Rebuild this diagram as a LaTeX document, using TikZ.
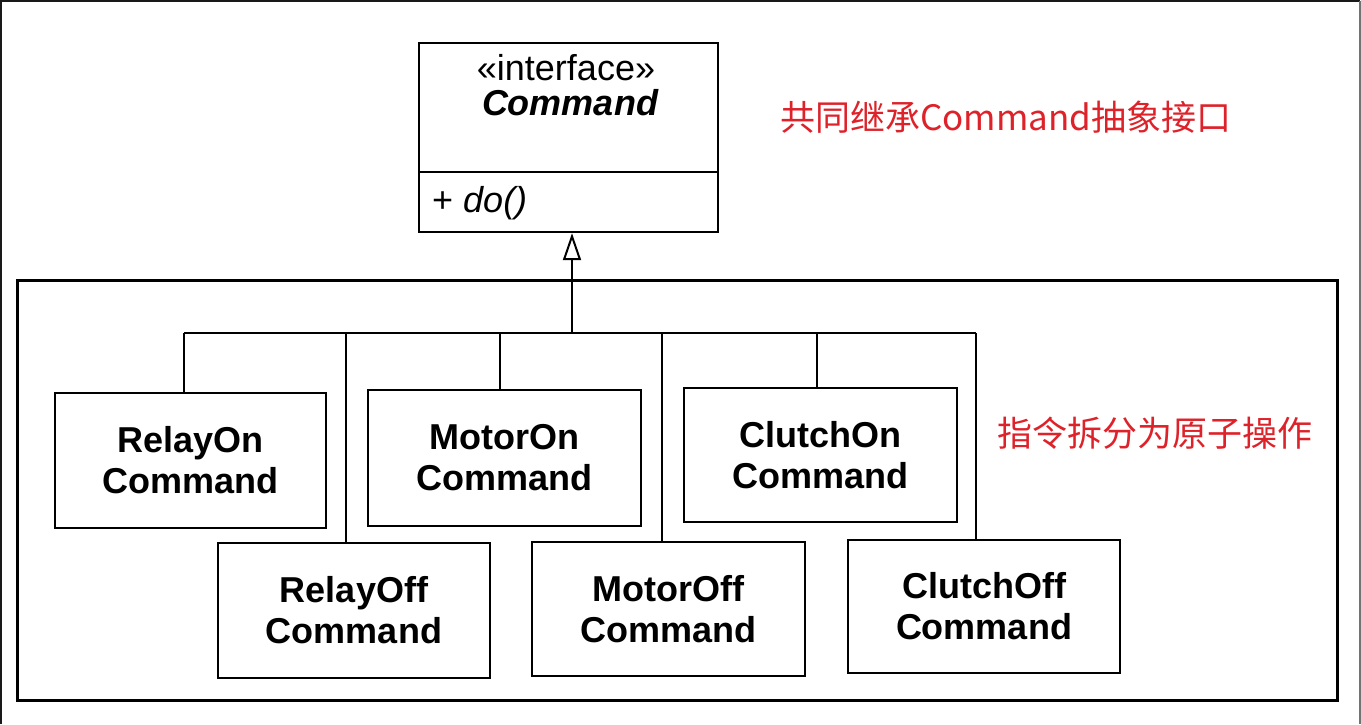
\documentclass[tikz,border=0pt]{standalone}
\usepackage{fontspec}
\setmainfont{Liberation Sans}
\newfontfamily\cjk{Noto Sans CJK SC}
\usetikzlibrary{arrows.meta}
\definecolor{note}{RGB}{222,34,42}
\tikzset{
  cls/.style={draw=black, line width=2.2pt, fill=white, align=center,
    font=\fontsize{36}{41}\selectfont\bfseries, inner sep=0pt},
  conn/.style={draw=black, line width=2pt},
  notetext/.style={text=note, font=\cjk\fontsize{35}{40}\selectfont, anchor=west, inner sep=0pt},
  plain/.style={inner sep=0pt, font=\fontsize{36}{41}\selectfont}
}
\begin{document}
\begin{tikzpicture}[x=1pt,y=-1pt]
\useasboundingbox (0,0) rectangle (1361,724);
% outer frame
\draw[line width=2.5pt, black!90] (1,724) -- (1,1) -- (1360,1);
\draw[line width=2pt, black!55] (1359.5,1) -- (1359.5,724);
% inner group rectangle
\draw[line width=3pt] (17,280) rectangle (1337,700);

% interface
\node[draw, line width=2.2pt, minimum width=299pt, minimum height=189pt, anchor=north, inner sep=0pt] (iface) at (568.5,42) {};
\draw[line width=1.8pt] ([yshift=61pt]iface.south west) -- ([yshift=61pt]iface.south east);
\node[plain] (stereo) at (566,68) {«interface»};
\node[plain, font=\fontsize{36}{41}\selectfont\bfseries\itshape] (cname) at (570,103) {Command};
\node[plain, anchor=west] (op) at (432,203) {+ \textit{do()}};

% classes
\node[cls, minimum width=271pt, minimum height=135pt] (ro) at (190.5,460.5) {RelayOn\\Command};
\node[cls, minimum width=273pt, minimum height=136pt] (mo) at (504.5,458) {MotorOn\\Command};
\node[cls, minimum width=273pt, minimum height=134pt] (co) at (820.5,455) {ClutchOn\\Command};
\node[cls, minimum width=272pt, minimum height=135pt] (rf) at (354,610.5) {RelayOff\\Command};
\node[cls, minimum width=273pt, minimum height=134pt] (mf) at (668.5,609) {MotorOff\\Command};
\node[cls, minimum width=272pt, minimum height=133pt] (cf) at (984,606.5) {ClutchOff\\Command};

% bus
\coordinate (b1) at (184,333);
\coordinate (b2) at (346,333);
\coordinate (b3) at (500,333);
\coordinate (bt) at (572,333);
\coordinate (b4) at (662,333);
\coordinate (b5) at (817,333);
\coordinate (b6) at (976,333);
\draw[conn] (b1) -- (b6);
\draw[conn] (b1) -- (b1 |- ro.north);
\draw[conn] (b2) -- (b2 |- rf.north);
\draw[conn] (b3) -- (b3 |- mo.north);
\draw[conn] (b4) -- (b4 |- mf.north);
\draw[conn] (b5) -- (b5 |- co.north);
\draw[conn] (b6) -- (b6 |- cf.north);
\draw[conn, -{Triangle[open, length=27pt, width=18pt, line width=2pt]}] (bt) -- (bt |- iface.south);

% notes
\node[notetext] (n1) at (780,117) {共同继承Command抽象接口};
\node[notetext] (n2) at (997,433) {指令拆分为原子操作};
\end{tikzpicture}
\end{document}
